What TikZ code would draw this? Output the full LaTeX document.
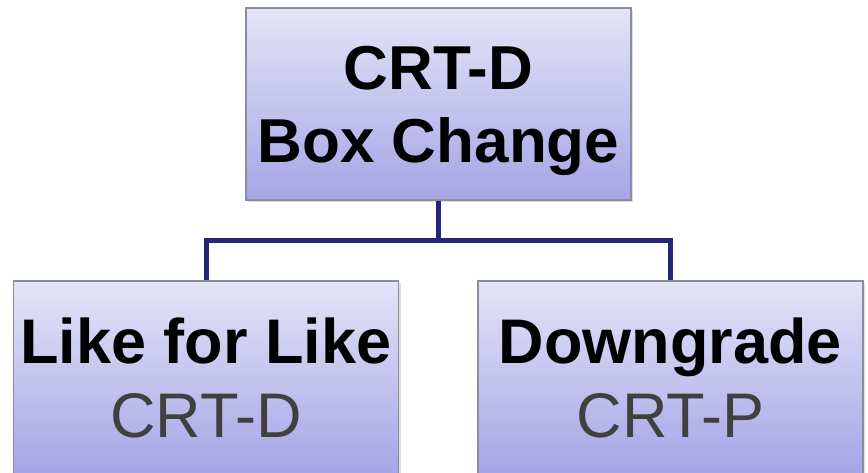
\documentclass[tikz,border=0pt]{standalone}
\usepackage{fontspec}
\setmainfont{Liberation Sans}
\usetikzlibrary{shadows}

\definecolor{navy}{RGB}{38,38,120}
\definecolor{boxtop}{RGB}{228,228,248}
\definecolor{boxbot}{RGB}{166,164,230}
\definecolor{boxline}{RGB}{140,140,160}
\definecolor{subtext}{RGB}{64,64,64}

\begin{document}
\begin{tikzpicture}[x=1pt,y=-1pt,
        box/.style={rectangle, draw=boxline, line width=1.2pt,
                        top color=boxtop, bottom color=boxbot,
                        minimum width=385pt, minimum height=192pt,
                        inner sep=0pt, align=center,
                        drop shadow={shadow xshift=2pt, shadow yshift=-2pt,
                                        opacity=0.25}},
        link/.style={draw=navy, line width=5pt, line join=miter}]
            \useasboundingbox (0,0) rectangle (868,473);

            \node[box, font=\bfseries\fontsize{62}{73}\selectfont]
                (change) at (438.5,104) {\rule{0pt}{58pt}CRT-D\\Box Change};
            \node[box, font=\fontsize{63}{74}\selectfont, minimum height=193pt]
                (like) at (206,377.5) {\textbf{Like for Like}\\\textcolor{subtext}{CRT-D}};
            \node[box, font=\fontsize{63}{74}\selectfont, minimum height=193pt]
                (down) at (670.5,377.5) {\textbf{Downgrade}\\\textcolor{subtext}{CRT-P}};

            \coordinate (split) at (438.5,241);
            \draw[link] (change.south) -- (split) -| (like.north);
            \draw[link] (split) -| (down.north);
        \end{tikzpicture}
\end{document}
